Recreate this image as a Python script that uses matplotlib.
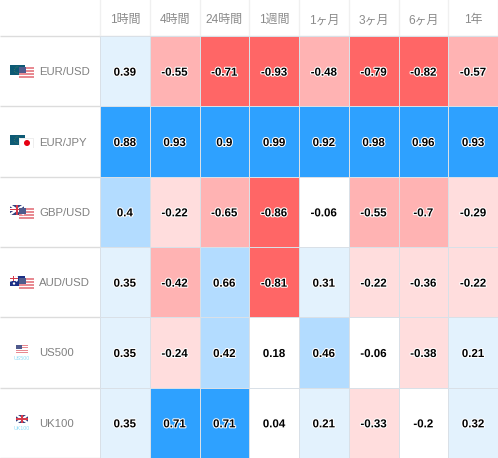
import numpy as np
import matplotlib
matplotlib.use("Agg")
import matplotlib.pyplot as plt
import matplotlib.patheffects as pe
from matplotlib.colors import ListedColormap, BoundaryNorm
from matplotlib.patches import Rectangle, Circle

W, H = 498, 458
columns = ["1時間", "4時間", "24時間", "1週間", "1ヶ月", "3ヶ月", "6ヶ月", "1年"]
rows = ["EUR/USD", "EUR/JPY", "GBP/USD", "AUD/USD", "US500", "UK100"]
eur_usd = [0.39, -0.55, -0.71, -0.93, -0.48, -0.79, -0.82, -0.57]
eur_jpy = [0.88, 0.93, 0.9, 0.99, 0.92, 0.98, 0.96, 0.93]
gbp_usd = [0.4, -0.22, -0.65, -0.86, -0.06, -0.55, -0.7, -0.29]
aud_usd = [0.35, -0.42, 0.66, -0.81, 0.31, -0.22, -0.36, -0.22]
us500 = [0.35, -0.24, 0.42, 0.18, 0.46, -0.06, -0.38, 0.21]
uk100 = [0.35, 0.71, 0.71, 0.04, 0.21, -0.33, -0.2, 0.32]
values = np.array([eur_usd, eur_jpy, gbp_usd, aud_usd, us500, uk100])

cmap = ListedColormap(["#ff6666", "#ffb3b3", "#ffdddd", "#ffffff", "#e3f2fd", "#b3dcff", "#2ea1ff"])
norm = BoundaryNorm([-1, -0.705, -0.4, -0.205, 0.205, 0.395, 0.705, 1], cmap.N)

plt.rcParams["font.family"] = ["Liberation Sans", "Noto Sans CJK JP", "DejaVu Sans"]
fig = plt.figure(figsize=(W / 100, H / 100), dpi=100, facecolor="white")

# pixel-space overlay for table furniture
bg = fig.add_axes([0, 0, 1, 1])
bg.set_xlim(0, W); bg.set_ylim(H, 0); bg.axis("off")

L, T = 100, 36
ax = fig.add_axes([L / W, 0, (W - L) / W, (H - T) / H])
ax.patch.set_alpha(0)
mesh = ax.pcolormesh(values, cmap=cmap, norm=norm, edgecolors="#d9e0e7", linewidth=0.7)
ax.set_ylim(len(rows), 0)
ax.set_xlim(0, len(columns))
for s in ax.spines.values():
    s.set_visible(False)
ax.xaxis.tick_top()
ax.set_xticks(np.arange(len(columns)) + 0.5, columns, fontsize=8.6, color="#8a8a8a")
ax.set_yticks([])
ax.tick_params(axis="x", length=0, pad=7)

row_h = (H - T) / len(rows)
col_w = (W - L) / len(columns)
dy = 1.5 / row_h
for r, row in enumerate(values):
    for c, v in enumerate(row):
        ax.text(c + 0.5, r + 0.5 + dy, f"{v:g}", ha="center", va="center", fontsize=8.3,
                fontweight="bold", color="black",
                path_effects=[pe.withStroke(linewidth=1.5, foreground="white")])

# header and row rules
for i in range(len(rows) + 1):
    y = T + i * row_h
    bg.plot([0, L], [y, y], color="#dcdcdc", lw=1.0, solid_capstyle="butt")
bg.plot([L, W], [T, T], color="#dcdcdc", lw=1.0)
for i in range(len(columns) + 1):
    x = L + i * col_w
    bg.plot([x, x], [0, T], color="#f0f0f0", lw=1.0)

# row labels
for i, name in enumerate(rows):
    y = T + (i + 0.5) * row_h
    bg.text(39, y + 1, name, ha="left", va="center", fontsize=8.2, color="#808080")


def rect(x, y, w, h, col, z=2, a=1.0):
    bg.add_patch(Rectangle((x, y), w, h, fc=col, ec="none", zorder=z, alpha=a))


def us_flag(x, y, w=15, h=11, z=3):
    n = 7
    for k in range(n):
        rect(x, y + k * h / n, w, h / n, "#e88a92" if k % 2 == 0 else "#ffffff", z)
    rect(x, y, w * 0.48, h * 0.55, "#4f5a8c", z + 1)


def eu_flag(x, y, w=15, h=10):
    rect(x, y, w, h, "#0d5a75", 2)
    bg.add_patch(Circle((x + w / 2, y + h / 2), 3.1, fc="none", ec="#5f8a50", lw=0.5, ls=":", zorder=2.5))


def uk_flag(x, y, w=12, h=9, z=3):
    rect(x, y, w, h, "#33407f", z)
    bg.plot([x, x + w], [y, y + h], color="#ffffff", lw=1.6, zorder=z + 0.1, solid_capstyle="butt")
    bg.plot([x, x + w], [y + h, y], color="#ffffff", lw=1.6, zorder=z + 0.1, solid_capstyle="butt")
    rect(x + w / 2 - 1.3, y, 2.6, h, "#ffffff", z + 0.2)
    rect(x, y + h / 2 - 1.3, w, 2.6, "#ffffff", z + 0.2)
    rect(x + w / 2 - 0.7, y, 1.4, h, "#d63a4a", z + 0.3)
    rect(x, y + h / 2 - 0.7, w, 1.4, "#d63a4a", z + 0.3)


# EUR/USD
eu_flag(10, 65)
us_flag(19, 67)
# EUR/JPY
eu_flag(10, 135)
rect(19, 138, 15, 10, "#eeeeee", 3)
rect(20, 138.5, 13, 9, "#ffffff", 3.1)
bg.add_patch(Circle((27, 143), 3, fc="#e60012", ec="none", zorder=4))
# GBP/USD
uk_flag(10, 205, w=14, h=9.5)
us_flag(19, 208)
# AUD/USD
rect(10, 276, 15, 10, "#1b2f86", 2)
uk_flag(10, 276, w=7.5, h=5, z=2.2)
bg.add_patch(Circle((14, 283.5), 1.2, fc="#ffffff", ec="none", zorder=2.5))
bg.add_patch(Circle((21, 281), 1.0, fc="#ffffff", ec="none", zorder=2.5))
us_flag(19, 278)
# US500 / UK100
us_flag(16, 345, w=12, h=8)
bg.text(22, 358, "US500", ha="center", va="center", fontsize=3.8, color="#8fdcf8")
uk_flag(16, 415, w=12, h=8)
bg.text(22, 428, "UK100", ha="center", va="center", fontsize=3.8, color="#8fdcf8")

fig.savefig("out.png", dpi=100, facecolor="white")
